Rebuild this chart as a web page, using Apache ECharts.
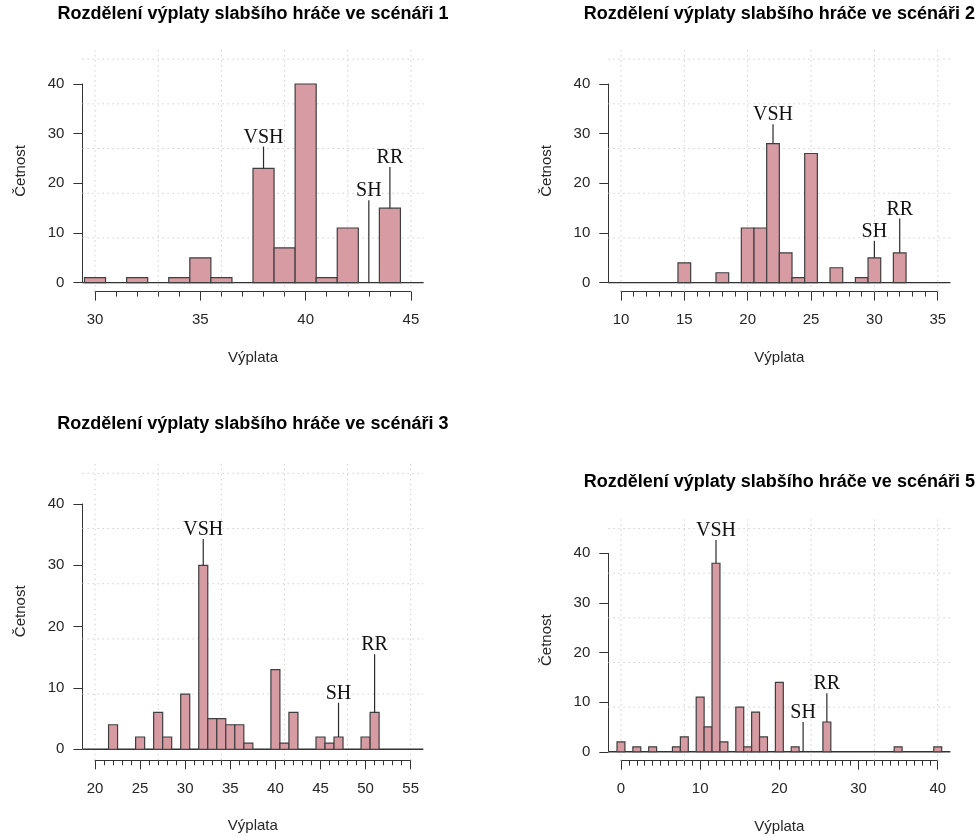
<!DOCTYPE html>
<html><head><meta charset="utf-8">
<script src="https://cdn.jsdelivr.net/npm/echarts@6/dist/echarts.min.js"></script>
<style>html,body{margin:0;padding:0;background:#fff}#c{width:980px;height:836px}</style>
</head><body><div id="c"></div>
<script>
// ---------- DATA ----------
const titles = [
  'Rozdělení výplaty slabšího hráče ve scénáři 1',
  'Rozdělení výplaty slabšího hráče ve scénáři 2',
  'Rozdělení výplaty slabšího hráče ve scénáři 3',
  'Rozdělení výplaty slabšího hráče ve scénáři 5'
];
const xAxisTitle = 'Výplata';
const yAxisTitle = 'Četnost';
const noteLabels = ['VSH', 'SH', 'RR'];

// Scenario 1
const s1Payoff = [30, 32, 34, 35, 36, 38, 39, 40, 41, 42, 44];
const s1Count  = [1, 1, 1, 5, 1, 23, 7, 40, 1, 11, 15];
const s1NoteX  = [38, 43, 44];
const s1NoteTop = [27.4, 16.6, 23.3];
const s1XLim = [30, 45];
const s1XStep = 5;

// Scenario 2
const s2Payoff = [15, 18, 20, 21, 22, 23, 24, 25, 27, 29, 30, 32];
const s2Count  = [4, 2, 11, 11, 28, 6, 1, 26, 3, 1, 5, 6];
const s2NoteX  = [22, 30, 32];
const s2NoteTop = [31.9, 8.4, 12.9];
const s2XLim = [10, 35];
const s2XStep = 5;

// Scenario 3
const s3Payoff = [22, 25, 27, 28, 30, 32, 33, 34, 35, 36, 37, 40, 41, 42, 45, 46, 47, 50, 51];
const s3Count  = [4, 2, 6, 2, 9, 30, 5, 5, 4, 4, 1, 13, 1, 6, 2, 1, 2, 2, 6];
const s3NoteX  = [32, 47, 51];
const s3NoteTop = [34.3, 7.6, 15.5];
const s3XLim = [20, 55];
const s3XStep = 5;

// Scenario 5
const s5Payoff = [0, 2, 4, 7, 8, 10, 11, 12, 13, 15, 16, 17, 18, 20, 22, 26, 35, 40];
const s5Count  = [2, 1, 1, 1, 3, 11, 5, 38, 2, 9, 1, 8, 3, 14, 1, 6, 1, 1];
const s5NoteX  = [12, 23, 26];
const s5NoteTop = [42.7, 6.0, 11.8];
const s5XLim = [0, 40];
const s5XStep = 10;

const yLim = [0, 45];
const yTickMax = 40;
const yStep = 10;

// ---------- LAYOUT / STYLE ----------
const layout = [
  {left: 82.4, top: 50.2, width: 341.2, height: 241.4, titleY: 14},
  {left: 608.3, top: 50.2, width: 342.1, height: 241.4, titleY: 14},
  {left: 82.4, top: 462.3, width: 340.9, height: 298.0, titleY: 424},
  {left: 608.3, top: 519.6, width: 342.1, height: 241.1, titleY: 482.5}
];
const BAR_FILL = '#D79BA3';
const BAR_STROKE = '#3f3f3f';
const AXIS_COLOR = '#333333';
const TEXT_COLOR = '#262626';
const GRID_COLOR = '#cfcfcf';
const SANS = '"Liberation Sans", Arial, Helvetica, sans-serif';
const SERIF = '"Liberation Serif", "DejaVu Serif", serif';

const panels = [
  {title: titles[0], x: s1Payoff, y: s1Count, noteX: s1NoteX, noteTop: s1NoteTop, xlim: s1XLim, step: s1XStep},
  {title: titles[1], x: s2Payoff, y: s2Count, noteX: s2NoteX, noteTop: s2NoteTop, xlim: s2XLim, step: s2XStep},
  {title: titles[2], x: s3Payoff, y: s3Count, noteX: s3NoteX, noteTop: s3NoteTop, xlim: s3XLim, step: s3XStep},
  {title: titles[3], x: s5Payoff, y: s5Count, noteX: s5NoteX, noteTop: s5NoteTop, xlim: s5XLim, step: s5XStep}
];

const grid = [], xAxis = [], yAxis = [], series = [], graphic = [];

panels.forEach((p, i) => {
  const L = layout[i];
  const a = p.xlim[0], b = p.xlim[1], w = b - a;
  const xmin = a - 0.04 * w, xmax = b + 0.04 * w;
  const yr = yLim[1] - yLim[0];
  const ymin = yLim[0] - 0.04 * yr, ymax = yLim[1] + 0.04 * yr;
  const px = v => L.left + (v - xmin) / (xmax - xmin) * L.width;
  const py = v => L.top + (ymax - v) / (ymax - ymin) * L.height;

  // full plot region grid
  const gFull = grid.length;
  grid.push({left: L.left, top: L.top, width: L.width, height: L.height});
  xAxis.push({gridIndex: gFull, type: 'value', min: xmin, max: xmax,
    axisLine: {show: false}, axisTick: {show: false}, axisLabel: {show: false}, splitLine: {show: false},
    name: xAxisTitle, nameLocation: 'middle', nameGap: 58.5,
    nameTextStyle: {fontFamily: SANS, fontSize: 15, color: TEXT_COLOR}});
  yAxis.push({gridIndex: gFull, type: 'value', min: ymin, max: ymax,
    axisLine: {show: false}, axisTick: {show: false}, axisLabel: {show: false}, splitLine: {show: false},
    name: yAxisTitle, nameLocation: 'middle', nameGap: 54, nameRotate: 90,
    nameTextStyle: {fontFamily: SANS, fontSize: 15, color: TEXT_COLOR}});

  // x axis grid (spans xlim)
  const gX = grid.length;
  grid.push({left: px(a), top: L.top, width: px(b) - px(a), height: L.height});
  xAxis.push({gridIndex: gX, type: 'value', min: a, max: b, interval: p.step, position: 'bottom',
    axisLine: {show: true, lineStyle: {color: AXIS_COLOR, width: 1}},
    axisTick: {show: true, length: 9, lineStyle: {color: AXIS_COLOR, width: 1}},
    minorTick: {show: true, splitNumber: p.step, length: 5, lineStyle: {color: AXIS_COLOR, width: 1}},
    axisLabel: {show: true, margin: 21, fontFamily: SANS, fontSize: 15, color: TEXT_COLOR, showMinLabel: true, showMaxLabel: true},
    splitLine: {show: false}});
  yAxis.push({gridIndex: gX, type: 'value', min: 0, max: 1, show: false});

  // y axis grid (spans 0..40)
  const gY = grid.length;
  grid.push({left: L.left, top: py(yTickMax), width: L.width, height: py(0) - py(yTickMax)});
  xAxis.push({gridIndex: gY, type: 'value', min: 0, max: 1, show: false});
  yAxis.push({gridIndex: gY, type: 'value', min: 0, max: yTickMax, interval: yStep, position: 'left',
    axisLine: {show: true, lineStyle: {color: AXIS_COLOR, width: 1}},
    axisTick: {show: true, length: 9, lineStyle: {color: AXIS_COLOR, width: 1}},
    axisLabel: {show: true, margin: 18, fontFamily: SANS, fontSize: 15, color: TEXT_COLOR, showMinLabel: true, showMaxLabel: true},
    splitLine: {show: false}});

  // dotted reference grid lines
  const gl = [];
  for (let k = 0; k <= 5; k++) gl.push([0, a + k * w / 5]);
  for (let k = 0; k <= 5; k++) gl.push([1, yLim[0] + k * yr / 5]);
  series.push({type: 'custom', xAxisIndex: gFull, yAxisIndex: gFull, z: 1, silent: true, clip: false,
    data: gl,
    renderItem: (params, api) => {
      const kind = api.value(0), v = api.value(1);
      const s = kind === 0 ? api.coord([v, ymin]) : api.coord([xmin, v]);
      const e = kind === 0 ? api.coord([v, ymax]) : api.coord([xmax, v]);
      return {type: 'line', shape: {x1: s[0], y1: s[1], x2: e[0], y2: e[1]},
        style: {stroke: GRID_COLOR, lineWidth: 1, lineDash: [1.5, 3.5]}};
    }});

  // baseline at zero
  series.push({type: 'custom', xAxisIndex: gFull, yAxisIndex: gFull, z: 3, silent: true, clip: false,
    data: [[0]],
    renderItem: (params, api) => {
      const s = api.coord([xmin, 0]), e = api.coord([xmax, 0]);
      return {type: 'line', shape: {x1: s[0], y1: s[1], x2: e[0], y2: e[1]},
        style: {stroke: AXIS_COLOR, lineWidth: 1.3}};
    }});

  // histogram bars
  series.push({type: 'custom', xAxisIndex: gFull, yAxisIndex: gFull, z: 4, silent: true, clip: false,
    data: p.x.map((v, k) => [v, p.y[k]]),
    renderItem: (params, api) => {
      const xv = api.value(0), c = api.value(1);
      const p0 = api.coord([xv - 0.5, c]), p1 = api.coord([xv + 0.5, 0]);
      return {type: 'rect', shape: {x: p0[0], y: p0[1], width: p1[0] - p0[0], height: p1[1] - p0[1]},
        style: {fill: BAR_FILL, stroke: BAR_STROKE, lineWidth: 1.2}};
    }});

  // annotations
  series.push({type: 'custom', xAxisIndex: gFull, yAxisIndex: gFull, z: 6, silent: true, clip: false,
    data: p.noteX.map((xv, k) => {
      const idx = p.x.indexOf(xv);
      return [xv, idx >= 0 ? p.y[idx] : 0, p.noteTop[k], k];
    }),
    renderItem: (params, api) => {
      const xv = api.value(0), lo = api.value(1), hi = api.value(2), k = api.value(3);
      const s = api.coord([xv, lo]), e = api.coord([xv, hi]);
      return {type: 'group', children: [
        {type: 'line', shape: {x1: s[0], y1: s[1], x2: e[0], y2: e[1]},
          style: {stroke: '#2a2a2a', lineWidth: 1.2}},
        {type: 'text', style: {text: noteLabels[k], x: e[0], y: e[1] + 1, align: 'center', verticalAlign: 'bottom',
          font: '20px ' + SERIF, fill: '#111111'}}
      ]};
    }});

  // panel title
  graphic.push({type: 'text', x: L.left + L.width / 2, y: L.titleY, silent: true,
    style: {text: p.title, align: 'center', verticalAlign: 'middle', font: 'bold 18px ' + SANS, fill: '#000000'}});
});

const chart = echarts.init(document.getElementById('c'), null, {renderer: 'canvas'});
chart.setOption({animation: false, backgroundColor: '#ffffff', grid, xAxis, yAxis, series, graphic});
</script>
</body></html>
